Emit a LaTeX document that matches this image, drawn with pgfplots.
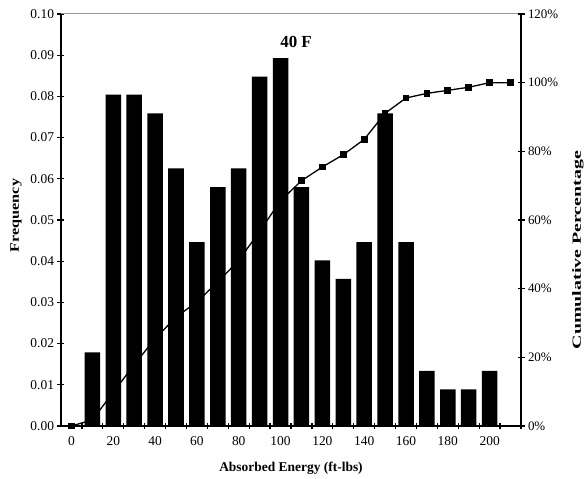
\documentclass[border=0pt]{standalone}
\usepackage{graphicx}
\usepackage{fontspec}
\setmainfont{Liberation Serif}
\usepackage{pgfplots}
\pgfplotsset{compat=1.18}
\begin{document}
\begin{tikzpicture}
\begin{axis}[
  name=main,
  scale only axis, width=460bp, height=412bp,
  xmin=-5, xmax=215, ymin=0, ymax=0.1,
  axis x line*=bottom, axis y line*=left,
  axis line style={line width=1.2bp},
  xtick={0,20,40,60,80,100,120,140,160,180,200},
  major x tick style={draw=none},
  minor xtick={5,15,25,35,45,55,65,75,85,95,105,115,125,135,145,155,165,175,185,195,205,215},
  minor tick length=6bp,
  ytick={0,0.01,0.02,0.03,0.04,0.05,0.06,0.07,0.08,0.09,0.1},
  major tick length=7bp,
  tick align=center,
  tick style={black, line width=1.2bp},
  ticklabel style={font=\fontsize{13.5}{15}\selectfont},
  /pgf/number format/assume math mode=true,
  yticklabel style={/pgf/number format/.cd, fixed, fixed zerofill, precision=2},
  xticklabel style={yshift=-4bp},
  clip=false,
]
\addplot[ybar, bar width=15.5bp, fill=black, draw=none] coordinates {
(10,0.0179) (20,0.0804) (30,0.0804) (40,0.0759) (50,0.0625) (60,0.0446)
(70,0.0580) (80,0.0625) (90,0.0848) (100,0.0893) (110,0.0580) (120,0.0402)
(130,0.0357) (140,0.0446) (150,0.0759) (160,0.0446) (170,0.0134) (180,0.0089)
(190,0.0089) (200,0.0134)
};
\draw[gray!80, line width=1bp] (rel axis cs:0,1) -- (rel axis cs:1,1);
\node at (rel axis cs:0.511,0.932) {\fontsize{17}{20}\selectfont\bfseries 40 F};
\node[rotate=90] at ([xshift=-45bp]rel axis cs:0,0.511) {\scalebox{1.25}[1]{\fontsize{13}{15}\selectfont\bfseries Frequency}};
\node at ([yshift=-42bp]rel axis cs:0.5,0) {\fontsize{13.5}{15}\selectfont\bfseries Absorbed Energy (ft-lbs)};
\node[rotate=90] at ([xshift=57bp]rel axis cs:1,0.427) {\scalebox{1.6}[1]{\fontsize{12.5}{15}\selectfont\bfseries Cumulative Percentage}};
\end{axis}
\begin{axis}[
  scale only axis, width=460bp, height=412bp,
  xmin=-5, xmax=215, ymin=0, ymax=120,
  axis x line=none, axis y line*=right,
  axis line style={line width=1.2bp},
  ytick={0,20,40,60,80,100,120},
  yticklabel={\pgfmathprintnumber{\tick}\%},
  major tick length=7bp,
  tick align=center,
  tick style={black, line width=1.2bp},
  ticklabel style={font=\fontsize{13}{15}\selectfont},
  /pgf/number format/assume math mode=true,
  clip=false,
]
\addplot[black, line width=1.3bp, mark=square*, mark size=2.7bp, mark options={solid}] coordinates {
(0,0) (10,1.79) (20,9.82) (30,17.86) (40,25.45) (50,31.70) (60,36.16)
(70,41.96) (80,48.21) (90,56.70) (100,65.63) (110,71.43) (120,75.45)
(130,79.02) (140,83.48) (150,91.07) (160,95.54) (170,96.88) (180,97.77)
(190,98.66) (200,100) (210,100)
};
\end{axis}
\pgfresetboundingbox
\path ([xshift=-61bp,yshift=-53bp]main.south west) rectangle ([xshift=63bp,yshift=14bp]main.north east);
\end{tikzpicture}
\end{document}
